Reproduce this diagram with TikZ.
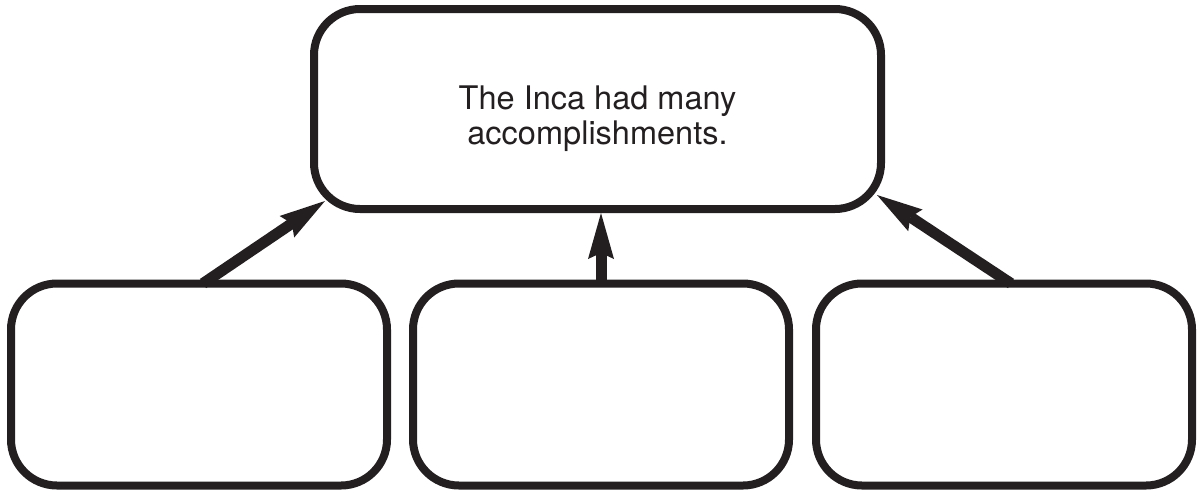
\documentclass[tikz,border=0pt]{standalone}
\usepackage{fontspec}
\setmainfont{TeX Gyre Heros}
\usetikzlibrary{arrows.meta}
\definecolor{ink}{RGB}{35,31,32}
\begin{document}
\begin{tikzpicture}[x=1pt,y=-1pt,
  box/.style={draw=ink, line width=8pt, rounded corners=46pt,
    rectangle, inner sep=0pt},
  topbox/.style={box, minimum width=567pt, minimum height=200pt},
  lowbox/.style={box, minimum width=376pt, minimum height=202pt},
  caption/.style={font=\fontsize{32.5pt}{35pt}\selectfont, align=center,
    text=ink, inner sep=0pt},
  link/.style={draw=ink, line width=11pt,
    -{Stealth[length=46pt,width=26pt,inset=6pt,line width=0pt]}}]
  \useasboundingbox (0,0) rectangle (1200,491);

  % main idea on top
  \node[topbox] (top) at (597.5,109) {};
  \node[caption] (toptext) at (597.5,119) {The Inca had many\\accomplishments.};

  % three supporting details
  \node[lowbox] (left)  at (199,384.5) {};
  \node[lowbox] (mid)   at (601,384.5) {};
  \node[lowbox] (right) at (1004,384.5) {};

  % arrows from each detail up to the main idea
  \draw[link] ([xshift=4pt,yshift=-4pt]left.north) -- ([shift={(15,-12)}]top.south west);
  \draw[link] ([yshift=-4pt]mid.north) -- (mid.north |- top.south);
  \draw[link] ([xshift=7pt,yshift=-4pt]right.north) -- ([shift={(-8,-18)}]top.south east);
\end{tikzpicture}
\end{document}
